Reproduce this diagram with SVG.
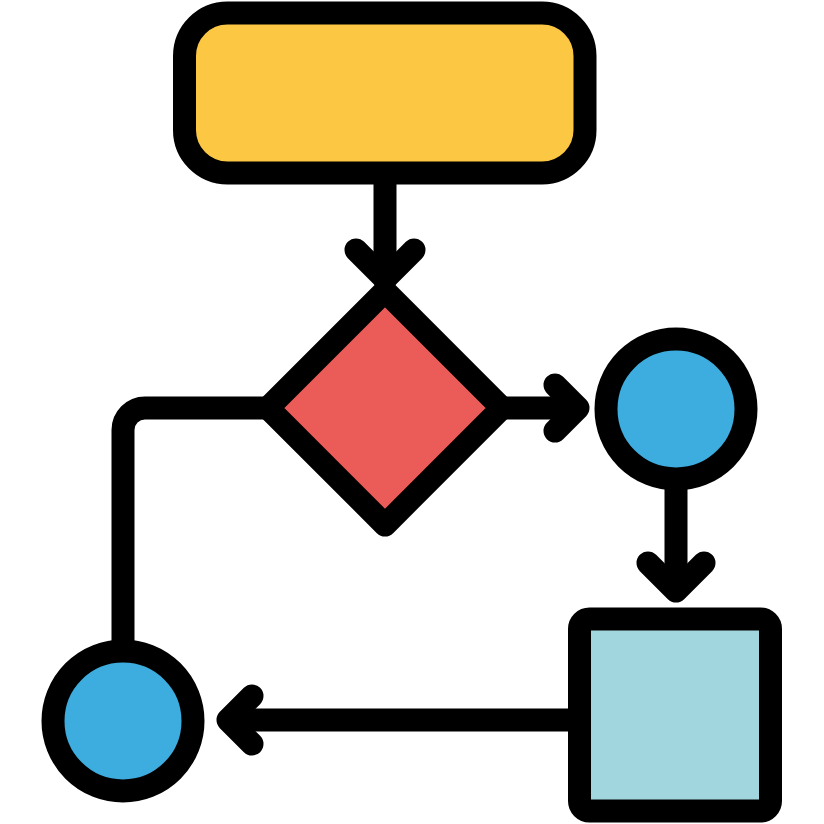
<svg xmlns="http://www.w3.org/2000/svg" width="824" height="824" viewBox="0 0 824 824">
  <style>
    .shape { stroke: #000; stroke-width: 23; stroke-linejoin: round; }
    .conn { fill: none; stroke: #000; stroke-width: 23; stroke-linecap: round; stroke-linejoin: round; }
  </style>
  <rect width="824" height="824" fill="#fff"/>
  <g id="connectors">
    <path class="conn" d="M385 173 V280"/>
    <path class="conn" d="M356 250 L385 279 L414 250"/>
    <path class="conn" d="M502 408 H577"/>
    <path class="conn" d="M555 385 L578 408 L555 431"/>
    <path class="conn" d="M676 479 V590"/>
    <path class="conn" d="M648 563 L676 591 L704 563"/>
    <path class="conn" d="M579 720 H229"/>
    <path class="conn" d="M252 696 L228 720 L252 744"/>
    <path class="conn" d="M268 408 H145 A22 22 0 0 0 123 430 V651"/>
  </g>
  <g id="start">
    <rect class="shape" x="184.5" y="13" width="400.5" height="160" rx="43" fill="#FCC742"/>
  </g>
  <g id="decision">
    <path class="shape" d="M385 291 L502 408 L385 525 L268 408 Z" fill="#EB5B57"/>
  </g>
  <g id="circle-right">
    <circle class="shape" cx="676" cy="409" r="70" fill="#3DADE0"/>
  </g>
  <g id="process">
    <rect class="shape" x="579.5" y="619" width="191" height="192" rx="10" fill="#A2D6DE"/>
  </g>
  <g id="circle-left">
    <circle class="shape" cx="123" cy="721" r="70" fill="#3DADE0"/>
  </g>
</svg>
